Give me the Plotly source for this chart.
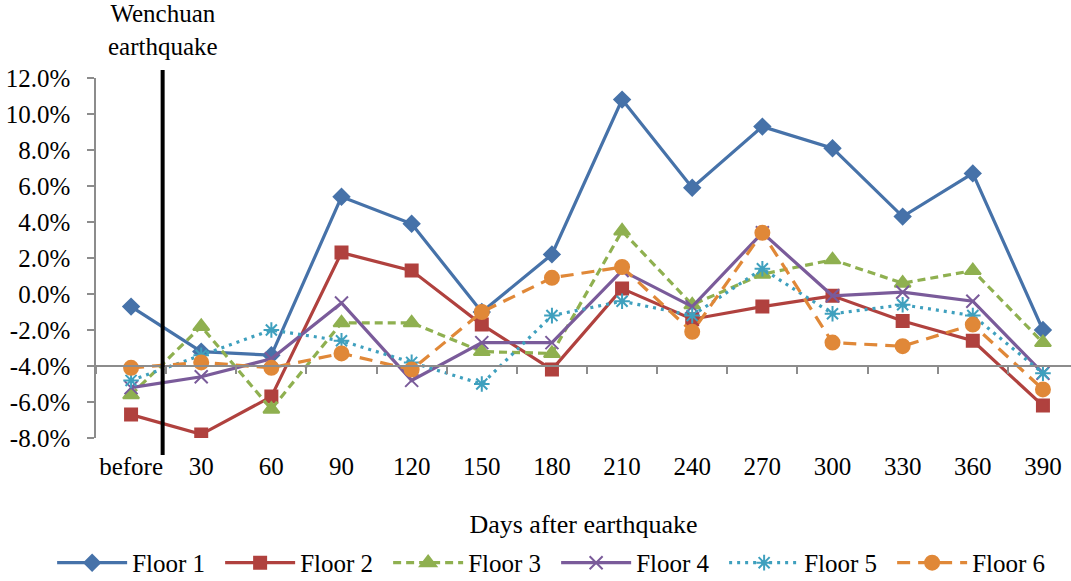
import plotly.graph_objects as go

# Categories along the time axis
days = ["before", "30", "60", "90", "120", "150", "180", "210",
        "240", "270", "300", "330", "360", "390"]

# Percentage change per floor (%)
floor1 = [-0.7, -3.2, -3.4, 5.4, 3.9, -1.0, 2.2, 10.8, 5.9, 9.3, 8.1, 4.3, 6.7, -2.0]
floor2 = [-6.7, -7.8, -5.7, 2.3, 1.3, -1.7, -4.2, 0.3, -1.4, -0.7, -0.1, -1.5, -2.6, -6.2]
floor3 = [-5.6, -1.8, -6.4, -1.6, -1.6, -3.2, -3.3, 3.5, -0.6, 1.1, 1.9, 0.6, 1.3, -2.7]
floor4 = [-5.2, -4.6, -3.6, -0.5, -4.8, -2.7, -2.7, 1.3, -0.7, 3.4, -0.1, 0.1, -0.4, -4.4]
floor5 = [-4.8, -3.4, -2.0, -2.6, -3.8, -5.0, -1.2, -0.4, -1.2, 1.4, -1.1, -0.6, -1.2, -4.4]
floor6 = [-4.1, -3.8, -4.1, -3.3, -4.2, -1.0, 0.9, 1.5, -2.1, 3.4, -2.7, -2.9, -1.7, -5.3]

y_ticks = [-8, -6, -4, -2, 0, 2, 4, 6, 8, 10, 12]
y_tick_labels = [f"{v:.1f}%" for v in y_ticks]

FONT = "Liberation Serif"

series = [
    ("Floor 1", floor1, "#4672A9", "solid", "diamond", 12),
    ("Floor 2", floor2, "#B0413E", "solid", "square", 12),
    ("Floor 3", floor3, "#8FB050", "8px,5px", "triangle-up", 14),
    ("Floor 4", floor4, "#7A5B9A", "solid", "x-thin-open", 13),
    ("Floor 5", floor5, "#3FA0BE", "3px,5px", "asterisk-open", 13),
    ("Floor 6", floor6, "#E08838", "13px,8px", "circle", 14),
]

fig = go.Figure()
for name, vals, color, dash, symbol, size in series:
    fig.add_trace(go.Scatter(
        x=days, y=vals, name=name, mode="lines+markers",
        line=dict(color=color, width=3.2, dash=dash),
        marker=dict(symbol=symbol, size=size, color=color,
                    line=dict(color=color, width=2)),
    ))

# helper trace carrying the category axis drawn across y = -4%
fig.add_trace(go.Scatter(
    x=days, y=floor1, xaxis="x2", mode="lines", opacity=0,
    showlegend=False, hoverinfo="skip", line=dict(width=0),
))

xrange = [-0.5, 13.4]

fig.update_layout(
    width=1071, height=581,
    margin=dict(l=96, r=0, t=78, b=143, autoexpand=False),
    paper_bgcolor="white", plot_bgcolor="white",
    font=dict(family=FONT, size=25, color="black"),
    showlegend=True,
    legend=dict(
        orientation="h", x=-0.045, xanchor="left", y=-0.347, yanchor="middle",
        font=dict(family=FONT, size=25, color="black"),
        entrywidth=83, itemwidth=70, traceorder="normal",
    ),
    xaxis=dict(
        type="category", range=xrange, showline=False, showgrid=False,
        zeroline=False, ticks="outside", ticklen=6, tickcolor="rgba(0,0,0,0)",
        tickfont=dict(family=FONT, size=25, color="black"),
        title=dict(text="Days after earthquake", standoff=35,
                   font=dict(family=FONT, size=26, color="black")),
    ),
    xaxis2=dict(
        type="category", overlaying="x", anchor="free", position=0.2,
        side="bottom", range=xrange, showline=True, linecolor="#8C8C8C",
        linewidth=1.5, showgrid=False, zeroline=False, ticks="outside",
        ticklen=7, tickwidth=1.5, tickcolor="#8C8C8C", tickson="boundaries",
        showticklabels=False,
    ),
    yaxis=dict(
        range=[-8, 12], tickvals=y_ticks, ticktext=y_tick_labels,
        showline=True, linecolor="#8C8C8C", linewidth=1.5, showgrid=False,
        zeroline=False, ticks="outside", ticklen=7, tickwidth=1.5,
        tickcolor="#8C8C8C", ticklabelstandoff=12,
        tickfont=dict(family=FONT, size=25, color="black"),
    ),
    shapes=[dict(
        type="line", xref="x", yref="paper", x0=0.45, x1=0.45,
        y0=-0.047, y1=1.022, line=dict(color="black", width=4),
    )],
    annotations=[dict(
        text="Wenchuan<br>earthquake", xref="x", yref="paper", x=0.45,
        y=1.045, xanchor="center", yanchor="bottom", showarrow=False,
        font=dict(family=FONT, size=25, color="black"),
    )],
)

fig.write_html("out.html")
